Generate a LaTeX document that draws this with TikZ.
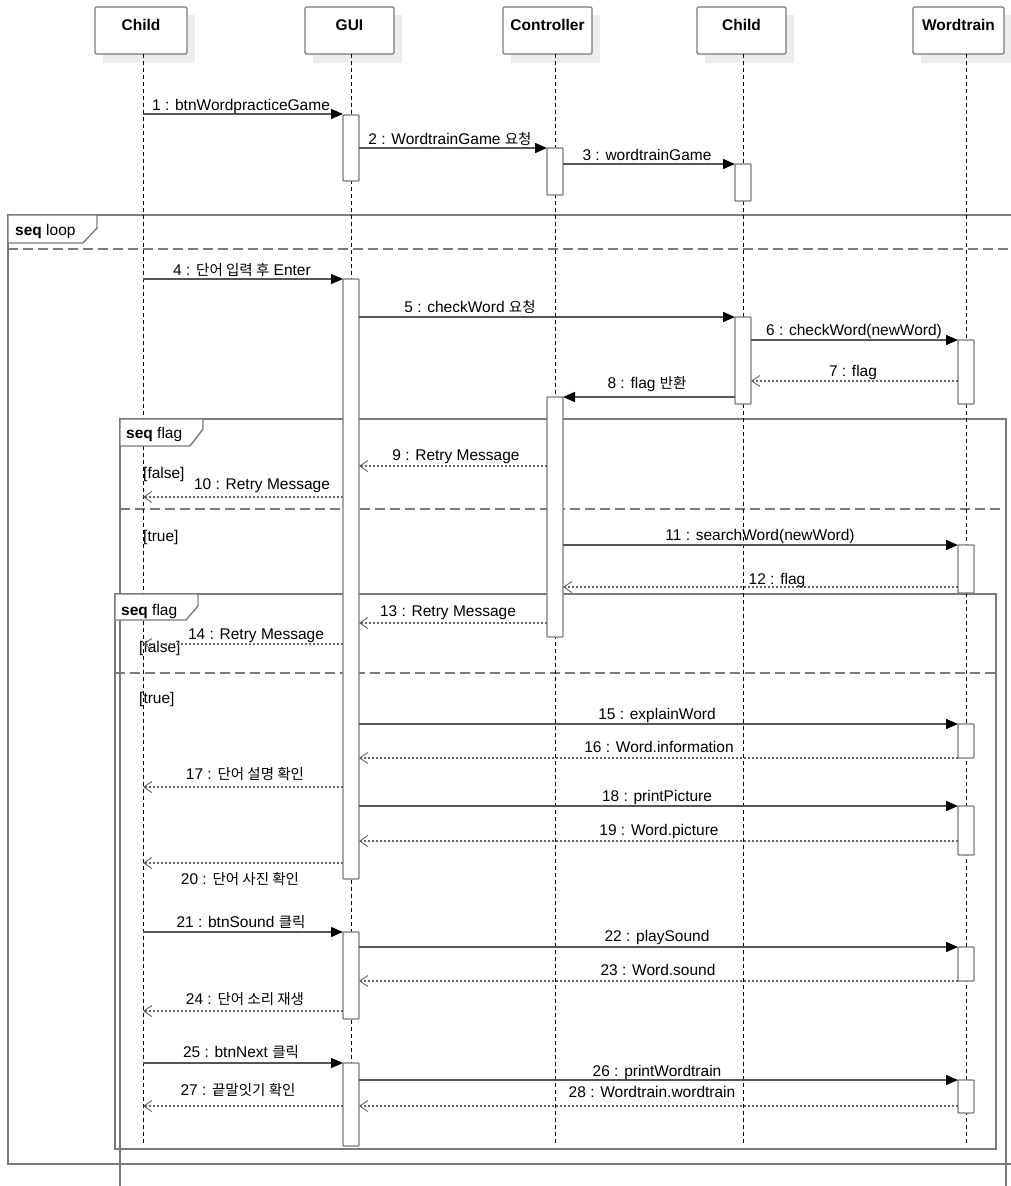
\documentclass[tikz,border=0pt]{standalone}
\usepackage{fontspec}
\setmainfont{Liberation Sans}
\newfontfamily\krfont{Noto Sans CJK KR}
\newcommand\kr[1]{{\krfont\fontsize{14.5}{17}\selectfont #1}}
\usetikzlibrary{arrows.meta}
\definecolor{framegray}{HTML}{7A7A7A}
\definecolor{linegray}{HTML}{555555}
\definecolor{retgray}{HTML}{666666}
\definecolor{shadowgray}{HTML}{EDEDED}
\newcommand\lbltext{\fontsize{15.5}{18}\selectfont}
% call message: id, x1, x2, y, label x, label baseline, text
\newcommand\mcall[7]{%
  \coordinate (s#1) at (#2,#4); \coordinate (e#1) at (#3,#4);
  \draw[callline] (s#1) -- (e#1);
  \node[lbl] (l#1) at (#5,#6) {#7};}
\newcommand\mret[7]{%
  \coordinate (s#1) at (#2,#4); \coordinate (e#1) at (#3,#4);
  \draw[retline] (s#1) -- (e#1);
  \node[lbl] (l#1) at (#5,#6) {#7};}
% activation bar: name, lifeline x, y1, y2
\newcommand\actbar[4]{%
  \node[actbox, minimum height={#4-#3}] (#1) at (#2,{(#3+#4)/2}) {};}
% header: name, x1, x2, lifeline x, text
\newcommand\header[5]{%
  \fill[shadowgray] (#2+8,15) rectangle (#3+8,63);
  \node[headbox, minimum width={#3-#2}] (#1) at ({(#2+#3)/2},30.5) {};
  \node[headtxt] (#1t) at ({(#2+#3)/2},30) {#5};
  \coordinate (#1a) at (#4,54); \coordinate (#1b) at (#4,1145);
  \draw[lifeline] (#1a) -- (#1b);}
\begin{document}
\begin{tikzpicture}[x=1pt,y=-1pt,
  lbl/.style={anchor=base, inner sep=0pt, font=\lbltext},
  guard/.style={anchor=base west, inner sep=0pt, font=\lbltext},
  headbox/.style={draw=framegray, line width=1.3pt, fill=white, rounded corners=1.2pt,
    minimum height=47pt, inner sep=0pt},
  headtxt/.style={anchor=base, inner sep=0pt, font=\fontsize{15.5}{18}\selectfont\bfseries},
  lifeline/.style={draw=black, line width=0.7pt, dash pattern=on 4pt off 3pt},
  actbox/.style={draw=framegray, line width=1.2pt, fill=white, minimum width=16pt,
    inner sep=0pt, rounded corners=0.8pt},
  callline/.style={draw=linegray, line width=1.4pt,
    -{Triangle[length=12pt,width=10pt,black]}},
  retline/.style={draw=retgray, line width=1.3pt, dash pattern=on 2pt off 2pt,
    -{Straight Barb[length=8pt,width=11pt,line width=0.9pt]}},
  frameline/.style={draw=framegray, line width=1.4pt},
  sepline/.style={draw=framegray, line width=1.5pt, dash pattern=on 10pt off 5pt},
  framelabel/.style={anchor=base west, inner sep=0pt, font=\lbltext}]
\clip (0,0) rectangle (1011,1186);
\fill[white] (0,0) rectangle (1011,1186);

% ---- combined fragments ----
\draw[frameline] (8,215) rectangle (1040,1164);
\draw[sepline] (8,249) -- (1040,249);
\draw[frameline] (120,419) rectangle (1006,1200);
\draw[sepline] (120,509) -- (1006,509);
\draw[frameline] (115,594) rectangle (996,1149);
\draw[sepline] (115,673) -- (996,673);

% ---- headers and lifelines ----
\header{c1}{95}{187}{143}{Child}
\header{gui}{305}{394}{351}{GUI}
\header{ctl}{503}{592}{555}{Controller}
\header{c2}{697}{786}{743}{Child}
\header{wt}{913}{1004}{966}{Wordtrain}

% ---- frame labels ----
\draw[frameline, fill=white] (8,215) -- (97,215) -- (97,228) -- (83,243) -- (8,243) -- cycle;
\node[framelabel] (loopl) at (15,235) {\textbf{seq} loop};
\draw[frameline, fill=white] (120,419) -- (203,419) -- (203,429) -- (190,446) -- (120,446) -- cycle;
\node[framelabel] (flag1l) at (126,438) {\textbf{seq} flag};
\draw[frameline, fill=white] (115,594) -- (198,594) -- (198,606) -- (186,620) -- (115,620) -- cycle;
\node[framelabel] (flag2l) at (121,615) {\textbf{seq} flag};

% ---- guards ----
\node[guard] (g1) at (143,478) {[false]};
\node[guard] (g2) at (143,541) {[true]};
\node[guard] (g3) at (139,652) {[false]};
\node[guard] (g4) at (139,703) {[true]};

% ---- activation bars ----
\actbar{gA}{351}{115}{181}
\actbar{gB}{351}{279}{879}
\actbar{gC}{351}{932}{1019}
\actbar{gD}{351}{1063}{1146}
\actbar{cA}{555}{148}{195}
\actbar{cB}{555}{397}{637}
\actbar{dA}{743}{164}{201}
\actbar{dB}{743}{317}{404}
\actbar{wA}{966}{340}{404}
\actbar{wB}{966}{545}{593}
\actbar{wC}{966}{724}{758}
\actbar{wD}{966}{806}{855}
\actbar{wE}{966}{947}{981}
\actbar{wF}{966}{1080}{1113}

% ---- messages ----
\mcall{1}{143}{343}{114}{241}{110}{1 : btnWordpracticeGame}
\mcall{2}{359}{547}{148}{450}{144}{2 : WordtrainGame \kr{요청}}
\mcall{3}{563}{735}{164}{647}{160}{3 : wordtrainGame}
\mcall{4}{143}{343}{279}{242}{275}{4 : \kr{단어 입력 후} Enter}
\mcall{5}{359}{735}{317}{470}{312}{5 : checkWord \kr{요청}}
\mcall{6}{751}{958}{340}{854}{335}{6 : checkWord(newWord)}
\mret{7}{958}{751}{381}{853}{376}{7 : flag}
\mcall{8}{735}{563}{397}{647}{388}{8 : flag \kr{반환}}
\mret{9}{547}{359}{466}{456}{460}{9 : Retry Message}
\mret{10}{343}{143}{497}{262}{489}{10 : Retry Message}
\mcall{11}{563}{958}{545}{760}{540}{11 : searchWord(newWord)}
\mret{12}{958}{563}{587}{777}{584}{12 : flag}
\mret{13}{547}{359}{623}{448}{616}{13 : Retry Message}
\mret{14}{343}{143}{644}{256}{639}{14 : Retry Message}
\mcall{15}{359}{958}{724}{657}{719}{15 : explainWord}
\mret{16}{958}{359}{758}{659}{752}{16 : Word.information}
\mret{17}{343}{143}{787}{245}{779}{17 : \kr{단어 설명 확인}}
\mcall{18}{359}{958}{806}{657}{801}{18 : printPicture}
\mret{19}{958}{359}{841}{659}{835}{19 : Word.picture}
\mret{20}{343}{143}{863}{240}{884}{20 : \kr{단어 사진 확인}}
\mcall{21}{143}{343}{932}{241}{927}{21 : btnSound \kr{클릭}}
\mcall{22}{359}{958}{947}{657}{941}{22 : playSound}
\mret{23}{958}{359}{981}{658}{975}{23 : Word.sound}
\mret{24}{343}{143}{1011}{245}{1004}{24 : \kr{단어 소리 재생}}
\mcall{25}{143}{343}{1063}{241}{1057}{25 : btnNext \kr{클릭}}
\mcall{26}{359}{958}{1080}{657}{1076}{26 : printWordtrain}
\mret{27}{343}{143}{1106}{238}{1095}{27 : \kr{끝말잇기 확인}}
\mret{28}{958}{359}{1106}{652}{1097}{28 : Wordtrain.wordtrain}
\end{tikzpicture}
\end{document}
